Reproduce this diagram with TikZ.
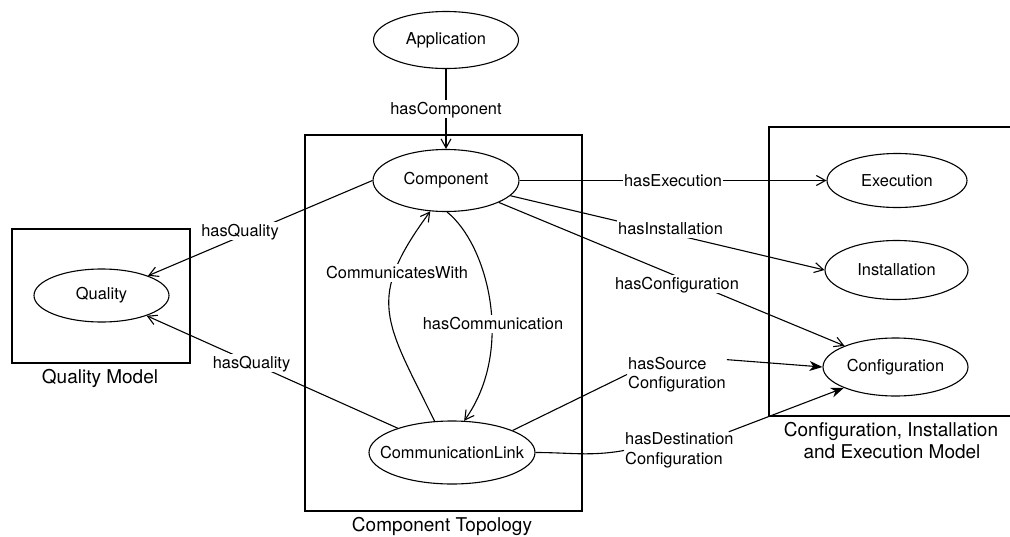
\documentclass[tikz,border=0pt]{standalone}
\usepackage{fontspec}
\setmainfont{TeX Gyre Heros}
\usetikzlibrary{shapes.geometric,arrows.meta}
\begin{document}
\begin{tikzpicture}[x=1pt,y=-1pt,
  every node/.style={font=\fontsize{16.4}{19.5}\selectfont},
  ln/.style={line width=1.1pt},
  ell/.style={ellipse, draw, line width=1.1pt, inner sep=0pt, fill=white},
  lbl/.style={fill=white, inner sep=1.5pt, text height=13pt, text depth=2pt},
  mlbl/.style={align=left, inner sep=1pt},
  arr/.style={ln, -{Straight Barb[length=9pt,width=10pt]}},
  farr/.style={ln, -{Stealth[length=13pt,width=10pt,inset=4pt]}},
  box/.style={draw, line width=1.1pt, inner sep=0pt},
  title/.style={font=\fontsize{19}{22}\selectfont, anchor=base}
]
\useasboundingbox (0,0) rectangle (1010,536);

% containers
\node[box, minimum width=277pt, minimum height=376pt] (topo) at (443.5,323) {};
\node[box, minimum width=178pt, minimum height=134pt] (qm) at (101,296) {};
\draw[ln] (1010,127) -| (769,416) -- (1010,416);

\node[title] (topot) at (442,531) {Component Topology};
\node[title] (qmt) at (100,383.5) {Quality Model};
\node[title] (cfgt1) at (891,436) {Configuration, Installation};
\node[title] (cfgt2) at (892,458.5) {and Execution Model};

% entities
\node[ell, minimum width=145pt, minimum height=57pt] (app) at (446,40) {\makebox[0pt]{Application}};
\node[ell, minimum width=146pt, minimum height=62pt] (comp) at (446,180.5) {\makebox[0pt]{Component}};
\node[ell, minimum width=166pt, minimum height=63pt] (cl) at (452,452.5) {\makebox[0pt]{CommunicationLink}};
\node[ell, minimum width=135pt, minimum height=53pt] (quality) at (101.5,295.5) {\makebox[0pt]{Quality}};
\node[ell, minimum width=140pt, minimum height=54pt] (exec) at (897,180.5) {\makebox[0pt]{Execution}};
\node[ell, minimum width=143pt, minimum height=59pt] (inst) at (896.5,270) {\makebox[0pt]{Installation}};
\node[ell, minimum width=145pt, minimum height=58pt] (conf) at (895.5,367) {\makebox[0pt]{Configuration}};

% straight relations with labels on top
\draw[arr] (app) -- (comp) node[lbl, midway] (hcomp) {hasComponent};
\draw[arr] (comp) -- (exec) node[lbl, midway] (hexec) {hasExecution};
\draw[arr] (comp) -- (inst.west);
\node[lbl] (hinst) at (670.5,229) {hasInstallation};
\draw[arr] (comp) -- (conf);
\node[lbl] (hconf) at (677,284) {hasConfiguration};
\draw[arr] (comp.west) -- (quality);
\node[lbl] (hq1) at (240,231) {hasQuality};
\draw[arr] (cl) -- (quality);
\node[lbl] (hq2) at (251.5,363) {hasQuality};

% curved relations inside topology
\draw[arr] (comp.272) .. controls (488,245) and (515,350) .. (cl.69);
\node[lbl] (hcomm) at (493,324) {hasCommunication};
\draw[arr] (cl.119) .. controls (385,320) and (365,300) .. (comp.243);
\node[lbl] (cw) at (397,273) {CommunicatesWith};

% source / destination configuration
\node[mlbl, anchor=west] (hsrc) at (627,374.5) {hasSource\\Configuration};
\node[mlbl, anchor=west] (hdst) at (624,450.5) {hasDestination\\Configuration};
\draw[ln] (cl.20) -- (hsrc.west);
\draw[farr] ([yshift=-4pt]hsrc.north east) -- (conf.west);
\draw[ln] (cl.east) to[out=0,in=190] (hdst.west);
\draw[farr] ([xshift=-6pt]hdst.north east) -- (conf.202);
\end{tikzpicture}
\end{document}
